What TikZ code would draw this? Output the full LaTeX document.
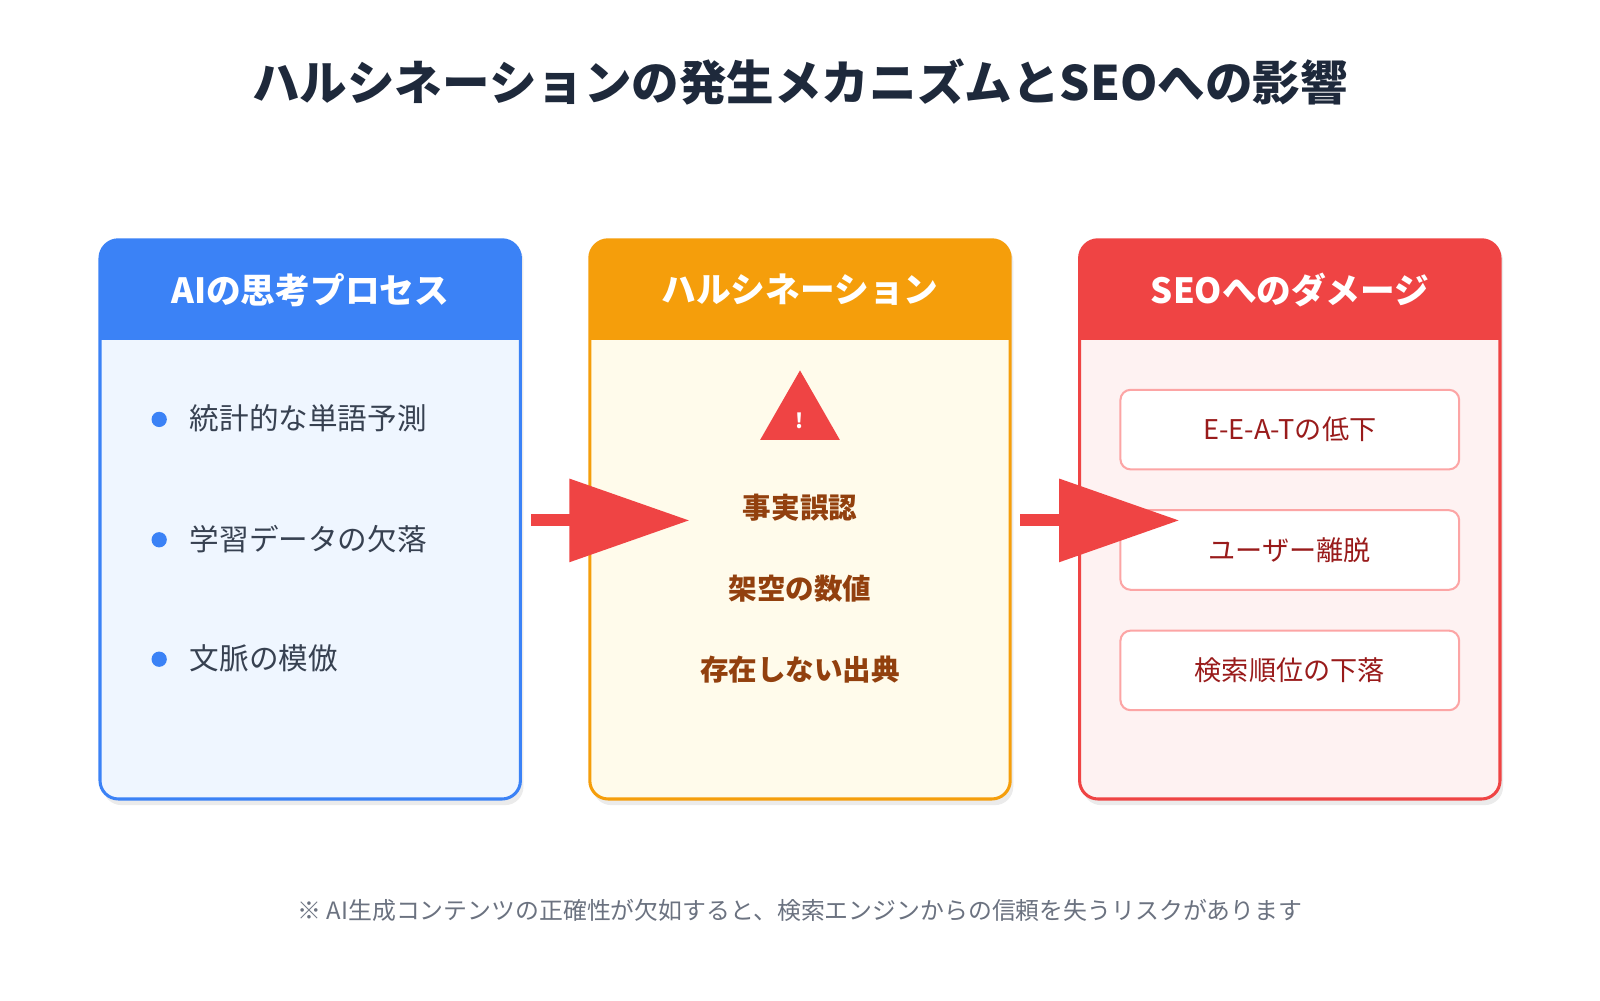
\documentclass[tikz,border=0pt]{standalone}
\usepackage{fontspec}
\setmainfont{Noto Sans CJK JP}
\usetikzlibrary{positioning}
\definecolor{blueA}{HTML}{3B82F6}
\definecolor{blueB}{HTML}{EFF6FF}
\definecolor{orangeA}{HTML}{F59E0B}
\definecolor{orangeB}{HTML}{FFFBEB}
\definecolor{redA}{HTML}{EF4444}
\definecolor{redB}{HTML}{FEF2F2}
\definecolor{redT}{HTML}{991B1B}
\definecolor{redL}{HTML}{FCA5A5}
\definecolor{brownT}{HTML}{92400E}
\definecolor{grayT}{HTML}{374151}
\definecolor{grayF}{HTML}{6B7280}
\definecolor{navyT}{HTML}{1E293B}
\tikzset{hdr/.style={text=white,font=\bfseries\fontsize{17}{20}\selectfont},
  item/.style={text=grayT,font=\fontsize{14.5}{17}\selectfont,anchor=west},
  bad/.style={text=brownT,font=\bfseries\fontsize{14}{17}\selectfont},
  dmg/.style={draw=redL,line width=1pt,fill=white,rounded corners=5pt,minimum width=166pt,minimum height=39pt,text=redT,font=\fontsize{13.3}{16}\selectfont}}
\begin{document}
\begin{tikzpicture}[x=0.5pt,y=-0.5pt]
    \useasboundingbox[fill=white] (0,0) rectangle (1568,980);
    \node[text=navyT,font=\bfseries\fontsize{23.3}{28}\selectfont] (title) at (784,80) {ハルシネーションの発生メカニズムとSEOへの影響};

    % three panels
    \foreach \x/\ca/\cb/\t in {98/blueA/blueB/AIの思考プロセス,578/orangeA/orangeB/ハルシネーション,1058/redA/redB/SEOへのダメージ}{
        \fill[black!8,rounded corners=9pt] (\x+3,238) rectangle (\x+415,789);
        \fill[\cb,rounded corners=9pt] (\x,235) rectangle (\x+412,783);
        \fill[\ca,rounded corners=9pt] (\x,235) rectangle (\x+412,300);
        \fill[\ca] (\x,280) rectangle (\x+412,333);
        \draw[\ca,line width=1.5pt,rounded corners=9pt] (\x,235) rectangle (\x+412,783);
        \node[hdr] at (\x+206,284) {\t};
    }

    % left items
    \foreach \y/\t in {410/統計的な単語予測,528/学習データの欠落,645/文脈の模倣}{
        \fill[blueA] (156,\y+1) circle (7.5);
        \node[item] at (179,\y) {\t};
    }

    % middle
    \fill[redA] (784,363) -- (823,431) -- (745,431) -- cycle;
    \node[text=white,font=\bfseries\fontsize{10}{12}\selectfont] (warn) at (784,412) {!};
    \node[bad] (b1) at (784,498) {事実誤認};
    \node[bad] (b2) at (784,577) {架空の数値};
    \node[bad] (b3) at (784,656) {存在しない出典};

    % right
    \node[dmg] (d1) at (1264,421) {E-E-A-Tの低下};
    \node[dmg] (d2) at (1264,539) {ユーザー離脱};
    \node[dmg] (d3) at (1264,657) {検索順位の下落};

    % arrows
    \foreach \x in {520,1000}{
        \fill[redA] (\x,504) rectangle (\x+45,515);
        \fill[redA] (\x+38,469) -- (\x+155,510) -- (\x+38,551) -- cycle;
    }

    \node[text=grayF,font=\fontsize{11.7}{14}\selectfont] (note) at (784,892) {※ AI生成コンテンツの正確性が欠如すると、検索エンジンからの信頼を失うリスクがあります};
\end{tikzpicture}
\end{document}
